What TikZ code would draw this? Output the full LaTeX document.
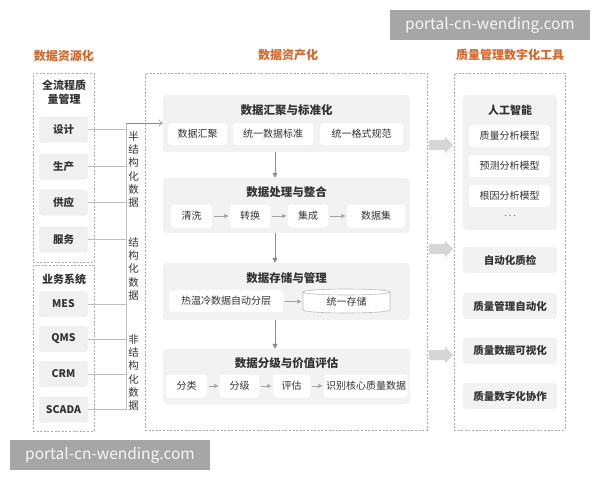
\documentclass[tikz,border=0pt]{standalone}
\usepackage{fontspec}
\setmainfont{Noto Sans CJK SC}
\usetikzlibrary{arrows.meta}
\definecolor{ttl}{HTML}{D5672C}
\definecolor{txt}{HTML}{333333}
\definecolor{panelgray}{HTML}{F2F2F2}
\definecolor{boxgray}{HTML}{F0F0F0}
\definecolor{dashgray}{HTML}{ABABAB}
\definecolor{linegray}{HTML}{BDBDBD}
\definecolor{arrgray}{HTML}{8C8C8C}
\definecolor{blockgray}{HTML}{D6D6D6}
\definecolor{wmgray}{HTML}{A6A6A6}
\begin{document}
\begin{tikzpicture}[x=1pt,y=-1pt,
  title/.style={font=\bfseries\fontsize{12}{14}\selectfont, text=ttl},
  dbox/.style={draw=dashgray, dash pattern=on 2pt off 1.6pt, line width=0.6pt, inner sep=0pt},
  lbox/.style={fill=boxgray, rounded corners=2.5pt, minimum width=49pt, minimum height=26pt, inner sep=0pt, text=txt, font=\bfseries\fontsize{10.5}{12}\selectfont},
  grouptitle/.style={text=txt, align=center, font=\bfseries\fontsize{11}{14}\selectfont},
  vtext/.style={text=txt, align=center, inner sep=0pt, font=\fontsize{10.5}{13.2}\selectfont},
  panel/.style={fill=panelgray, rounded corners=4pt, inner sep=0pt},
  ptitle/.style={text=txt, font=\bfseries\fontsize{11.5}{13}\selectfont},
  sbox/.style={fill=white, rounded corners=3pt, minimum height=22pt, inner sep=0pt, text=txt, font=\fontsize{10}{12}\selectfont},
  rbox/.style={fill=panelgray, rounded corners=3pt, minimum width=94pt, minimum height=26pt, inner sep=0pt, text=txt, font=\bfseries\fontsize{10.5}{12}\selectfont},
  bus/.style={draw=linegray, line width=0.7pt},
  flow/.style={draw=arrgray, line width=0.8pt, -{Triangle[length=5pt,width=5pt]}},
  sflow/.style={draw=arrgray!80, line width=0.7pt, -{Triangle[length=4pt,width=4pt]}, shorten <=1.5pt, shorten >=1.5pt},
  wm/.style={fill=wmgray, minimum width=200pt, minimum height=30pt, inner sep=0pt, text=white!96!black, font=\fontsize{15.5}{16}\selectfont}
]
\useasboundingbox (0,0) rectangle (600,480);

% ---------- titles ----------
\node[title] (t1) at (64,56) {数据资源化};
\node[title] (t2) at (288,55) {数据资产化};
\node[title] (t3) at (510,55) {质量管理数字化工具};

% ---------- left column ----------
\node[dbox, minimum width=61pt, minimum height=189pt] (la) at (63.5,167.5) {};
\node[dbox, minimum width=61pt, minimum height=166pt] (lb) at (63.5,348) {};
\node[grouptitle] (ga) at (64,92) {全流程质\\量管理};
\node[grouptitle] (gb) at (64,279) {业务系统};

\node[lbox] (sj) at (63.5,129.5) {设计};
\node[lbox] (sc) at (63.5,166.5) {生产};
\node[lbox] (gy) at (63.5,202.5) {供应};
\node[lbox] (fw) at (63.5,239.5) {服务};
\node[lbox] (mes) at (63.5,304) {MES};
\node[lbox] (qms) at (63.5,339) {QMS};
\node[lbox] (crm) at (63.5,374) {CRM};
\node[lbox] (scada) at (63.5,409.5) {SCADA};

\coordinate (busT) at (126,123);
\coordinate (busB) at (126,409.5);
\draw[bus] (busT) -- (busB);
\foreach \n in {sj,sc,gy,fw,mes,qms,crm,scada}
  \draw[bus] (\n.east) -- (\n.east -| busT);

\node[vtext] (v1) at (133.5,169.5) {半\\结\\构\\化\\数\\据};
\node[vtext] (v2) at (133.5,269) {结\\构\\化\\数\\据};
\node[vtext] (v3) at (133.5,372.5) {非\\结\\构\\化\\数\\据};

% ---------- middle column ----------
\node[dbox, minimum width=282pt, minimum height=357pt] (mid) at (286,251.5) {};

\node[panel, minimum width=247pt, minimum height=57pt] (p1) at (286.5,123.5) {};
\node[ptitle] (p1t) at (286.5,110) {数据汇聚与标准化};
\node[sbox, minimum width=59pt] (a1) at (197.5,134) {数据汇聚};
\node[sbox, minimum width=80pt] (a2) at (273,134) {统一数据标准};
\node[sbox, minimum width=83pt] (a3) at (361.5,134) {统一格式规范};

\draw[draw=arrgray, line width=0.6pt, -{To[length=4pt,width=7pt]}] (busT) -- (p1.west |- busT);

\node[panel, minimum width=247pt, minimum height=55pt] (p2) at (286.5,205.5) {};
\node[ptitle] (p2t) at (286.5,192) {数据处理与整合};
\node[sbox, minimum width=41pt, minimum height=23pt] (b1) at (191.5,216) {清洗};
\node[sbox, minimum width=40pt, minimum height=23pt] (b2) at (250,216) {转换};
\node[sbox, minimum width=40pt, minimum height=23pt] (b3) at (308,216) {集成};
\node[sbox, minimum width=58pt, minimum height=23pt] (b4) at (376,216) {数据集};
\draw[sflow] (b1) -- (b2);
\draw[sflow] (b2) -- (b3);
\draw[sflow] (b3) -- (b4);

\node[panel, minimum width=247pt, minimum height=57pt] (p3) at (286.5,291.5) {};
\node[ptitle] (p3t) at (286.5,278) {数据存储与管理};
\node[sbox, minimum width=114pt] (c1) at (226,301) {热温冷数据自动分层};
% cylinder
\path[fill=white, draw=linegray, line width=0.6pt] (303,292) -- (303,310)
  arc[start angle=180, end angle=360, x radius=43.5pt, y radius=3pt] -- (390,292)
  arc[start angle=0, end angle=180, x radius=43.5pt, y radius=3pt] -- cycle;
\draw[draw=linegray, line width=0.6pt] (390,292) arc[start angle=0, end angle=-180, x radius=43.5pt, y radius=3pt];
\node[text=txt, font=\fontsize{10}{12}\selectfont, minimum width=87pt, minimum height=24pt, inner sep=0pt] (c2) at (346.5,302) {统一存储};
\draw[sflow] (c1) -- (c2);

\node[panel, minimum width=247pt, minimum height=55pt] (p4) at (286.5,376.5) {};
\node[ptitle] (p4t) at (286.5,363) {数据分级与价值评估};
\node[sbox, minimum width=41pt, minimum height=23pt] (d1) at (186.5,386) {分类};
\node[sbox, minimum width=39pt, minimum height=23pt] (d2) at (239.5,386) {分级};
\node[sbox, minimum width=37pt, minimum height=23pt] (d3) at (291.5,386) {评估};
\node[sbox, minimum width=84pt, minimum height=23pt] (d4) at (366,386) {识别核心质量数据};
\draw[sflow] (d1) -- (d2);
\draw[sflow] (d2) -- (d3);
\draw[sflow] (d3) -- (d4);

\draw[flow] (p1.south -| 275,0) -- (p2.north -| 275,0);
\draw[flow] (p2.south -| 275,0) -- (p3.north -| 275,0);
\draw[flow] (p3.south -| 275,0) -- (p4.north -| 275,0);

% ---------- right column ----------
\node[dbox, minimum width=111pt, minimum height=357pt] (rt) at (509.5,251.5) {};
\node[panel, minimum width=94pt, minimum height=135pt] (ai) at (510,162.5) {};
\node[ptitle, font=\bfseries\fontsize{11}{13}\selectfont] (ait) at (510,110) {人工智能};
\node[sbox, minimum width=81pt] (m1) at (509.5,136) {质量分析模型};
\node[sbox, minimum width=81pt] (m2) at (509.5,166) {预测分析模型};
\node[sbox, minimum width=81pt] (m3) at (509.5,196) {根因分析模型};
\node[text=txt, font=\bfseries\fontsize{10}{12}\selectfont] (dots) at (510,216) {$\cdots$};

\node[rbox] (r1) at (510,260) {自动化质检};
\node[rbox] (r2) at (510,306) {质量管理自动化};
\node[rbox] (r3) at (510,350.5) {质量数据可视化};
\node[rbox] (r4) at (510,396) {质量数字化协作};

% block arrows between columns
\foreach \yy in {145,249,355}{
  \fill[blockgray] (429,\yy-5) -- (445,\yy-5) -- (445,\yy-8.5) -- (453,\yy) -- (445,\yy+8.5) -- (445,\yy+5) -- (429,\yy+5) -- cycle;
}

% ---------- watermarks ----------
\node[wm] (w1) at (490,25) {portal-cn-wending.com};
\node[wm] (w2) at (110,455) {portal-cn-wending.com};
\end{tikzpicture}
\end{document}
